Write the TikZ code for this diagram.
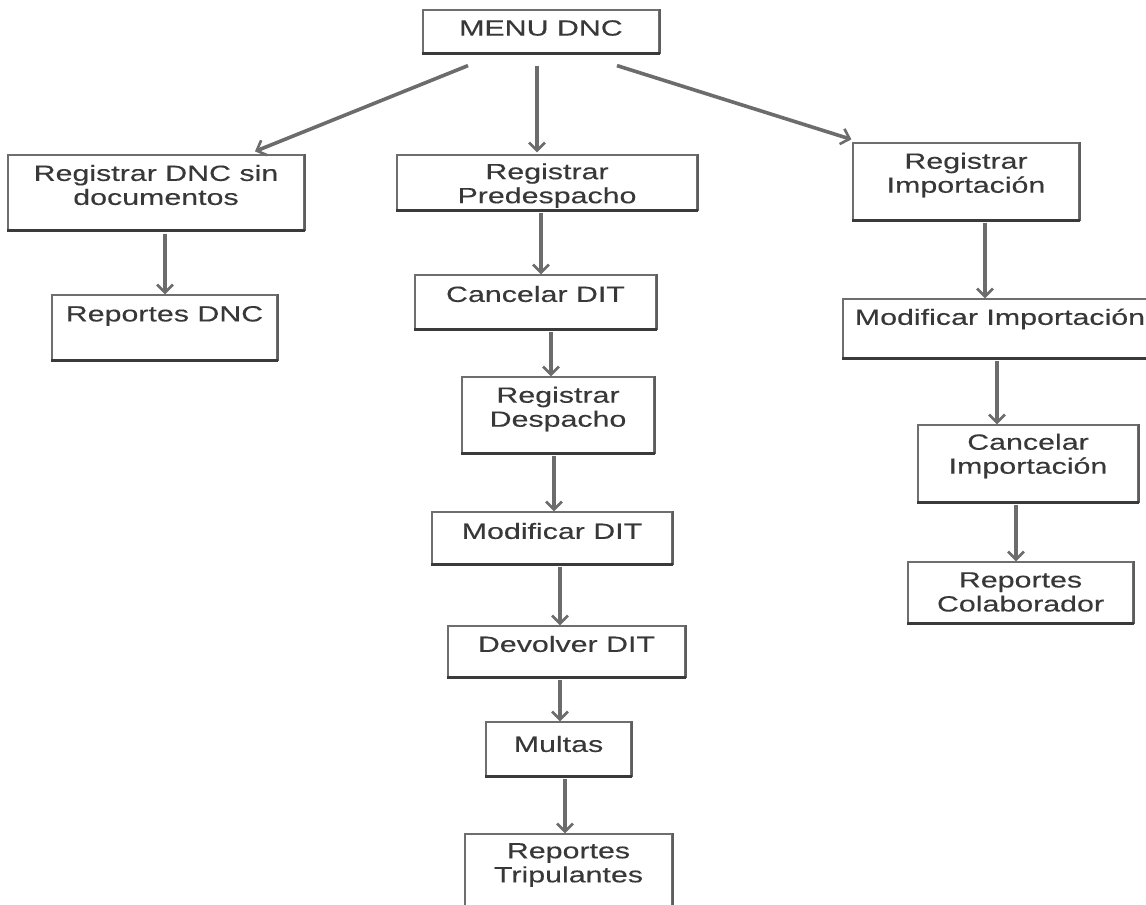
\documentclass[tikz,border=0pt]{standalone}
\usepackage{fontspec}
\setmainfont{Liberation Sans}[FakeStretch=1.38, FakeBold=0.2]
\usetikzlibrary{arrows.meta}

\definecolor{boxedge}{HTML}{6E6E6E}
\definecolor{boxshadow}{HTML}{3A3A3A}
\definecolor{txtc}{HTML}{383838}
\definecolor{arrc}{HTML}{6C6C6C}

\tikzset{
  boxshape/.style={draw=boxedge, line width=1.2pt, fill=white, inner sep=0pt},
  edgeR/.style={draw=boxedge!85!black, line width=2pt},
  edgeB/.style={draw=boxshadow, line width=3pt},
  labeltext/.style={align=center, inner sep=0pt, text=txtc,
    font=\fontsize{22}{24}\selectfont},
  arr/.style={draw=arrc, line width=3.6pt,
    -{Straight Barb[length=8pt,width=16pt,line width=2.6pt]}},
}

% name, x1, y1, x2, y2, text centre y, text
\newcommand\flowbox[7]{%
  \node[boxshape, minimum width={(#4-#2)*1pt}, minimum height={(#5-#3)*1pt}]
    (#1) at ({(#2+#4)/2},{(#3+#5)/2}) {};
  \draw[edgeR] (#1.north east) -- (#1.south east);
  \draw[edgeB] (#1.south west) -- (#1.south east);
  \node[labeltext] (#1-t) at ({(#2+#4)/2},#6) {#7};
}

\begin{document}
\begin{tikzpicture}[x=1pt, y=-1pt]
\clip (0,0) rectangle (1146,905);
\fill[white] (0,0) rectangle (1146,905);

% top menu
\flowbox{menu}{423}{10}{659}{53}{28}{MENU DNC}

% left branch
\flowbox{rdnc}{8}{155}{304}{230}{185}{Registrar DNC sin\\documentos}
\flowbox{repdnc}{52}{295}{277}{360}{316}{Reportes DNC}

% middle branch
\flowbox{pred}{397}{155}{697}{210}{185.5}{Registrar\\Predespacho}
\flowbox{candit}{415}{275}{656}{329}{294}{Cancelar DIT}
\flowbox{rdesp}{462}{377}{654}{453}{409}{Registrar\\Despacho}
\flowbox{moddit}{432}{512}{672}{564}{531}{Modificar DIT}
\flowbox{devdit}{448}{626}{685}{677}{644}{Devolver DIT}
\flowbox{multas}{486}{722}{631}{776}{744}{Multas}
\flowbox{reptrip}{465}{834}{672}{940}{865}{Reportes\\Tripulantes}

% right branch
\flowbox{rimp}{853}{143}{1079}{220}{175}{Registrar\\Importación}
\flowbox{modimp}{843}{299}{1157}{358}{319}{Modificar Importación}
\flowbox{canimp}{918}{425}{1138}{502}{456}{Cancelar\\Importación}
\flowbox{repcol}{908}{562}{1133}{623}{592}{Reportes\\Colaborador}

% connectors from the menu
\draw[arr] ([xshift=-73pt,yshift=-12pt]menu.south) -- ([xshift=99pt,yshift=3pt]rdnc.north);
\draw[arr] ([xshift=-4pt,yshift=-12pt]menu.south) -- ([xshift=-10pt,yshift=2pt]pred.north);
\draw[arr] ([xshift=76pt,yshift=-12pt]menu.south) -- ([xshift=-1pt,yshift=3pt]rimp.north west);

% left column
\draw[arr] (165,0 |- rdnc.south) ++(0,3) -- (165,0 |- repdnc.north);

% middle column
\draw[arr] (541,0 |- pred.south) ++(0,2) -- (541,0 |- candit.north);
\draw[arr] (551,0 |- candit.south) ++(0,2) -- (551,0 |- rdesp.north);
\draw[arr] (554,0 |- rdesp.south) ++(0,2) -- (554,0 |- moddit.north);
\draw[arr] (560,0 |- moddit.south) ++(0,2) -- (560,0 |- devdit.north);
\draw[arr] (560,0 |- devdit.south) ++(0,2) -- (560,0 |- multas.north);
\draw[arr] (565,0 |- multas.south) ++(0,2) -- (565,0 |- reptrip.north);

% right column
\draw[arr] (985,0 |- rimp.south) ++(0,2) -- (985,0 |- modimp.north);
\draw[arr] (997,0 |- modimp.south) ++(0,2) -- (997,0 |- canimp.north);
\draw[arr] (1016,0 |- canimp.south) ++(0,2) -- (1016,0 |- repcol.north);
\end{tikzpicture}
\end{document}
